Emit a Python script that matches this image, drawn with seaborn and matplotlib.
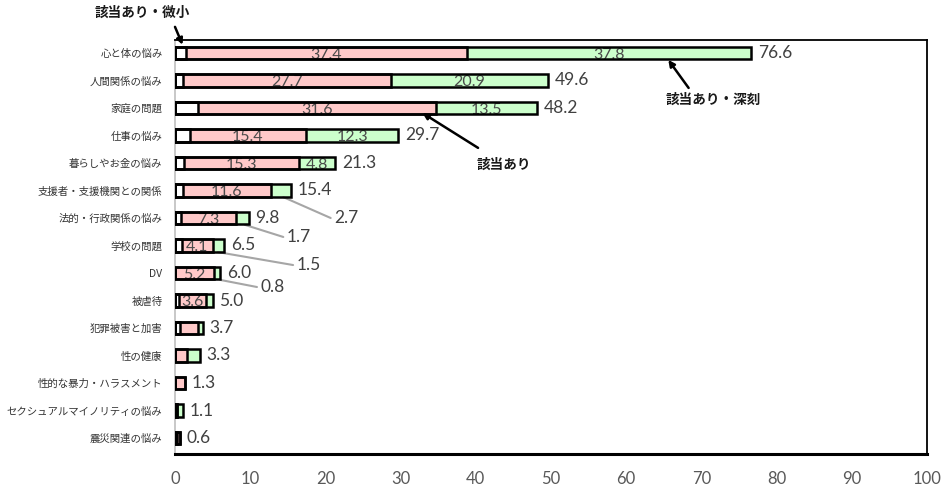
import matplotlib
matplotlib.use("Agg")
import matplotlib.pyplot as plt
import seaborn as sns
import pandas as pd

categories = ["心と体の悩み", "人間関係の悩み", "家庭の問題", "仕事の悩み", "暮らしやお金の悩み",
              "支援者・支援機関との関係", "法的・行政関係の悩み", "学校の問題", "DV", "被虐待",
              "犯罪被害と加害", "性の健康", "性的な暴力・ハラスメント", "セクシュアルマイノリティの悩み",
              "震災関連の悩み"]
slight = [1.4, 1.0, 3.1, 2.0, 1.2, 1.1, 0.8, 0.9, 0.0, 0.5, 0.6, 0.0, 0.0, 0.3, 0.2]
moderate = [37.4, 27.7, 31.6, 15.4, 15.3, 11.6, 7.3, 4.1, 5.2, 3.6, 2.5, 1.6, 1.3, 0.0, 0.4]
serious = [37.8, 20.9, 13.5, 12.3, 4.8, 2.7, 1.7, 1.5, 0.8, 0.9, 0.6, 1.7, 0.0, 0.8, 0.0]
totals = [76.6, 49.6, 48.2, 29.7, 21.3, 15.4, 9.8, 6.5, 6.0, 5.0, 3.7, 3.3, 1.3, 1.1, 0.6]
moderate_labels = ["37.4", "27.7", "31.6", "15.4", "15.3", "11.6", "7.3", "4.1", "5.2", "3.6"]
serious_labels = ["37.8", "20.9", "13.5", "12.3", "4.8"]
callout_labels = ["2.7", "1.7", "1.5", "0.8"]
x_ticks = [0, 10, 20, 30, 40, 50, 60, 70, 80, 90, 100]

sns.set_theme(style="white")
plt.rcParams["font.family"] = ["Noto Sans CJK JP", "DejaVu Sans"]

df = pd.DataFrame({
    "cat": categories,
    "c1": slight,
    "c2": [a + b for a, b in zip(slight, moderate)],
    "c3": [a + b + c for a, b, c in zip(slight, moderate, serious)],
})

fig = plt.figure(figsize=(9.43, 4.9), dpi=100)
ax = fig.add_axes([175 / 943, 1 - 454 / 490, 752 / 943, 414 / 490])

PINK = "#FFC9C9"
GREEN = "#CCFFCC"
BW = 0.46

# filled layers (no edges)
sns.barplot(data=df, y="cat", x="c3", color=GREEN, saturation=1, width=BW,
            linewidth=0, edgecolor="none", ax=ax, zorder=2)
sns.barplot(data=df, y="cat", x="c2", color=PINK, saturation=1, width=BW,
            linewidth=0, edgecolor="none", ax=ax, zorder=2)
sns.barplot(data=df, y="cat", x="c1", color="white", saturation=1, width=BW,
            linewidth=0, edgecolor="none", ax=ax, zorder=2)

# inside labels
num_font = ["Lato", "DejaVu Sans"]
for i, lab in enumerate(moderate_labels):
    xc = slight[i] + moderate[i] / 2
    ax.text(xc, i + 0.06, lab, ha="center", va="center", fontsize=11.5,
            color="#4a4a4a", family=num_font, zorder=3)
for i, lab in enumerate(serious_labels):
    xc = slight[i] + moderate[i] + serious[i] / 2
    ax.text(xc, i + 0.06, lab, ha="center", va="center", fontsize=11.5,
            color="#4a4a4a", family=num_font, zorder=3)

# edge layers
for col in ["c3", "c2", "c1"]:
    sns.barplot(data=df, y="cat", x=col, color="black", fill=False, width=BW,
                linewidth=1.8, ax=ax, zorder=4)

# totals
for i, t in enumerate(totals):
    ax.text(t + 0.9, i, f"{t:.1f}", ha="left", va="center", fontsize=12.5,
            color="#404040", family=num_font, zorder=5)

# callouts for small serious values
callout_lines = [((14.4, 5.24), (20.7, 6.0)), ((9.3, 6.25), (14.4, 6.69)),
                 ((5.7, 7.24), (15.7, 7.71)), ((6.0, 8.25), (10.9, 8.51))]
for lab, (p0, p1) in zip(callout_labels, callout_lines):
    ax.plot([p0[0], p1[0]], [p0[1], p1[1]], color="#A6A6A6", lw=1.5, zorder=3,
            solid_capstyle="round")
    ax.text(p1[0] + 0.5, p1[1], lab, ha="left", va="center", fontsize=12.5,
            color="#404040", family=num_font, zorder=5)

# annotations with arrows
arrow = dict(arrowstyle="-|>", color="black", lw=1.8, mutation_scale=9,
             shrinkA=0, shrinkB=0)
ax.annotate("", xy=(1.0, -0.3), xytext=(0.0, -0.95), arrowprops=arrow,
            annotation_clip=False, zorder=6)
ax.text(-4.4, -1.45, "該当あり・微小", ha="center", va="center", fontsize=9.8,
        fontweight="bold", color="#1a1a1a", clip_on=False)
ax.annotate("", xy=(32.9, 2.18), xytext=(40.3, 3.45), arrowprops=arrow, zorder=6)
ax.text(43.7, 4.07, "該当あり", ha="center", va="center", fontsize=9.8,
        fontweight="bold", color="#1a1a1a")
ax.annotate("", xy=(65.6, 0.25), xytext=(68.3, 1.27), arrowprops=arrow, zorder=6)
ax.text(71.6, 1.71, "該当あり・深刻", ha="center", va="center", fontsize=9.8,
        fontweight="bold", color="#1a1a1a")

ax.set_xlim(0, 100)
ax.set_ylim(14 + 16 / 27.5, -13 / 27.5)
ax.set_xticks(x_ticks)
ax.set_xticklabels([str(v) for v in x_ticks], family=num_font)
ax.set_xlabel("")
ax.set_ylabel("")
ax.tick_params(axis="x", labelsize=12, colors="#595959", length=0, pad=12)
ax.tick_params(axis="y", labelsize=7.5, colors="#333333", length=0, pad=9)
for name in ["top", "right", "bottom"]:
    ax.spines[name].set_visible(True)
    ax.spines[name].set_color("black")
    ax.spines[name].set_linewidth(1.3)
ax.spines["bottom"].set_linewidth(2.2)
ax.spines["left"].set_color("#BFBFBF")
ax.spines["left"].set_linewidth(1.2)
ax.grid(False)

fig.savefig("out.png", dpi=100, facecolor="white")
